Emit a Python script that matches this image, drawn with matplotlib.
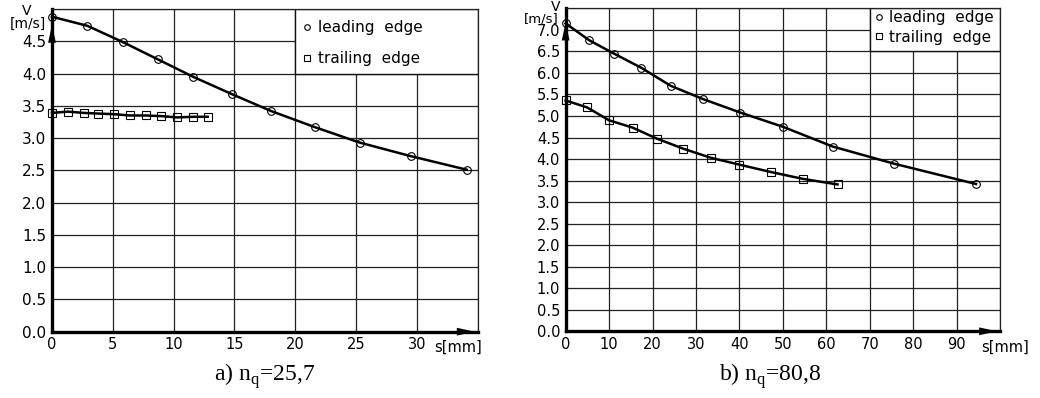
import matplotlib.pyplot as plt
from matplotlib.patches import Rectangle
from matplotlib.lines import Line2D

plt.rcParams['font.family'] = 'DejaVu Sans'
plt.rcParams['mathtext.fontset'] = 'custom'
plt.rcParams['mathtext.rm'] = 'Liberation Serif'

# a) n_q = 25,7
s_lead_a = [0, 2.9, 5.8, 8.7, 11.6, 14.8, 18.0, 21.6, 25.3, 29.5, 34.1]
v_lead_a = [4.88, 4.74, 4.49, 4.22, 3.95, 3.68, 3.42, 3.17, 2.93, 2.72, 2.51]
s_trail_a = [0, 1.3, 2.6, 3.8, 5.1, 6.4, 7.7, 9.0, 10.3, 11.6, 12.8]
v_trail_a = [3.39, 3.41, 3.39, 3.38, 3.37, 3.35, 3.35, 3.34, 3.32, 3.33, 3.33]
xticks_a = [0, 5, 10, 15, 20, 25, 30]
yticks_a = [0.0, 0.5, 1.0, 1.5, 2.0, 2.5, 3.0, 3.5, 4.0, 4.5]

# b) n_q = 80,8
s_lead_b = [0, 5.4, 11.1, 17.4, 24.2, 31.7, 40.2, 50.0, 61.5, 75.7, 94.5]
v_lead_b = [7.15, 6.76, 6.45, 6.12, 5.70, 5.39, 5.08, 4.75, 4.29, 3.89, 3.42]
s_trail_b = [0, 4.9, 10.0, 15.4, 21.1, 27.1, 33.4, 40.0, 47.2, 54.6, 62.6]
v_trail_b = [5.36, 5.20, 4.90, 4.73, 4.47, 4.24, 4.03, 3.87, 3.70, 3.54, 3.41]
xticks_b = [0, 10, 20, 30, 40, 50, 60, 70, 80, 90]
yticks_b = [0.0, 0.5, 1.0, 1.5, 2.0, 2.5, 3.0, 3.5, 4.0, 4.5, 5.0, 5.5, 6.0, 6.5, 7.0]

labels = ['leading  edge', 'trailing  edge']


def draw_panel(ax, s_lead, v_lead, s_trail, v_trail, xticks, yticks, xmax, ymax,
               box, fs_x, fs_y, fs_leg, leg_anchor, leg_spacing, arrow_y):
    ax.set_xlim(0, xmax)
    ax.set_ylim(0, ymax)
    ax.set_xticks(xticks + [xmax])
    ax.set_xticklabels([str(t) for t in xticks] + [''], fontsize=fs_x)
    ax.set_yticks(yticks + [ymax])
    ax.set_yticklabels(['%.1f' % t for t in yticks] + [''], fontsize=fs_y)
    ax.tick_params(length=0, pad=4)
    ax.grid(True, color='#222222', lw=0.9)
    ax.set_axisbelow(True)
    for side in ['top', 'right']:
        ax.spines[side].set_linewidth(0.9)
        ax.spines[side].set_color('#222222')
    for side in ['left', 'bottom']:
        ax.spines[side].set_linewidth(2.4)

    # white legend box hides the grid in the corner
    ax.add_patch(Rectangle((box[0], box[1]), 1 - box[0], 1 - box[1], transform=ax.transAxes,
                           facecolor='white', edgecolor='#111111', lw=1.0, zorder=1.5))

    ax.plot(s_lead, v_lead, color='black', lw=1.8, marker='o', ms=5.5,
            mfc='none', mec='black', mew=0.8, zorder=3, clip_on=False)
    ax.plot(s_trail, v_trail, color='black', lw=1.8, marker='s', ms=6,
            mfc='none', mec='black', mew=0.8, zorder=3, clip_on=False)

    handles = [Line2D([], [], ls='none', marker='o', ms=4, mfc='none', mec='black', mew=0.8),
               Line2D([], [], ls='none', marker='s', ms=4, mfc='none', mec='black', mew=0.8)]
    leg = ax.legend(handles, labels, loc='upper left', bbox_to_anchor=leg_anchor,
                    frameon=False, fontsize=fs_leg, handlelength=0.6, handletextpad=0.4,
                    labelspacing=leg_spacing, borderpad=0, borderaxespad=0)
    leg.set_zorder(4)

    # axis arrows
    ax.annotate('', xy=(1, 0), xytext=(0.955, 0), xycoords='axes fraction',
                arrowprops=dict(arrowstyle='-|>,head_length=1.3,head_width=0.28',
                                color='black', lw=0), zorder=5, annotation_clip=False)
    ax.annotate('', xy=(0, arrow_y), xytext=(0, arrow_y - 0.06), xycoords='axes fraction',
                arrowprops=dict(arrowstyle='-|>,head_length=1.3,head_width=0.28',
                                color='black', lw=0), zorder=5, annotation_clip=False)


fig = plt.figure(figsize=(10.4, 3.98), dpi=100)
ax_a = fig.add_axes([0.050, 0.1666, 0.4093, 0.8108])
ax_b = fig.add_axes([0.5439, 0.1676, 0.4176, 0.8115])

draw_panel(ax_a, s_lead_a, v_lead_a, s_trail_a, v_trail_a, xticks_a, yticks_a, 35, 5.0,
           (20 / 35, 0.8), 10.5, 11, 11, (0.588, 0.965), 1.05, 0.96)
draw_panel(ax_b, s_lead_b, v_lead_b, s_trail_b, v_trail_b, xticks_b, yticks_b, 100, 7.5,
           (0.7, 6.5 / 7.5), 10.5, 10.5, 11, (0.71, 0.995), 0.3, 0.965)

fig.text(27 / 1040, 1 - 11 / 398, 'V', ha='center', va='center', fontsize=10)
fig.text(28 / 1040, 1 - 24 / 398, '[m/s]', ha='center', va='center', fontsize=10)
fig.text(556 / 1040, 1 - 7 / 398, 'V', ha='center', va='center', fontsize=10)
fig.text(541 / 1040, 1 - 19 / 398, '[m/s]', ha='center', va='center', fontsize=9.5)

fig.text(458 / 1040, 1 - 347 / 398, 's[mm]', ha='center', va='center', fontsize=10.5)
fig.text(1005 / 1040, 1 - 347 / 398, 's[mm]', ha='center', va='center', fontsize=10.5)

fig.text(265 / 1040, 1 - 376 / 398, r'a) n$_{\mathrm{q}}$=25,7', ha='center', va='center',
         fontsize=17, family='Liberation Serif')
fig.text(770 / 1040, 1 - 376 / 398, r'b) n$_{\mathrm{q}}$=80,8', ha='center', va='center',
         fontsize=17, family='Liberation Serif')

fig.savefig('out.png', dpi=100)
